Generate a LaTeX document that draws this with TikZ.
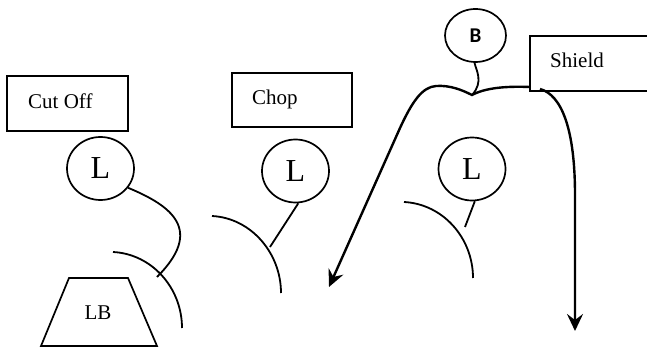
\documentclass[tikz,border=0pt]{standalone}
\usepackage{fontspec}
\setmainfont{Liberation Serif}
\newfontfamily\bfam{Carlito}
\usetikzlibrary{arrows.meta,shapes.geometric}
\begin{document}
\begin{tikzpicture}[x=1pt,y=-1pt,
  boxnode/.style={draw,line width=1.7pt,rectangle,inner sep=0pt},
  lbl/.style={font=\fontsize{21}{25}\selectfont,inner sep=0pt,anchor=base west},
  lcirc/.style={draw,line width=1.7pt,ellipse,minimum width=67pt,minimum height=63pt,inner sep=0pt,font=\fontsize{32}{36}\selectfont},
  thin line/.style={line width=1.8pt},
  thick arrow/.style={line width=2.4pt,-{Stealth[length=17pt,width=16pt,inset=6pt]}}]
\useasboundingbox (0,0) rectangle (647,352);
\begin{scope}
\clip (0,0) rectangle (647,352);
% boxes
\node[boxnode,minimum width=121pt,minimum height=55pt] (cutbox) at (67.5,103.5) {};
\node[lbl] (cuttext) at (28,109) {Cut Off};
\node[boxnode,minimum width=120pt,minimum height=54pt] (chopbox) at (292,100) {};
\node[lbl] (choptext) at (252,105) {Chop};
\node[boxnode,minimum width=140pt,minimum height=55pt] (shieldbox) at (600,63.5) {};
\node[lbl] (shieldtext) at (550,68) {Shield};
% L circles
\node[lcirc] (l1) at (100.5,168.5) {L};
\node[lcirc] (l2) at (295.5,171) {L};
\node[lcirc] (l3) at (472,169) {L};
% B
\node[draw,line width=1.7pt,ellipse,minimum width=61pt,minimum height=53pt,inner sep=0pt,font=\bfam\bfseries\fontsize{21}{25}\selectfont] (b) at (475.5,35.5) {B};
% LB trapezium
\coordinate (t1) at (69,278);
\coordinate (t2) at (128,278);
\coordinate (t3) at (157,346);
\coordinate (t4) at (41,346);
\draw[line width=1.7pt] (t1) -- (t2) -- (t3) -- (t4) -- cycle;
\node[font=\fontsize{21}{25}\selectfont,inner sep=0pt] (lb) at (98,313) {LB};
% arcs
\coordinate (a1s) at (113,252); \coordinate (a1e) at (182,328);
\coordinate (a2s) at (212,216); \coordinate (a2e) at (281,293);
\coordinate (a3s) at (404,202); \coordinate (a3e) at (473,278);
\draw[thin line] (a1s) .. controls (152,254) and (182,288) .. (a1e);
\draw[thin line] (a2s) .. controls (251,218) and (281,253) .. (a2e);
\draw[thin line] (a3s) .. controls (443,204) and (473,238) .. (a3e);
% connectors from L circles
\coordinate (c1) at (157,277);
\draw[thin line] (l1.-35) .. controls (172,206) and (204,230) .. (c1);
\coordinate (c2) at (270,247);
\draw[thin line] (l2.-85) -- (c2);
\coordinate (c3) at (465,227);
\draw[thin line] (l3.-85) -- (c3);
% shield curves
\coordinate (dip) at (472,95);
\coordinate (corner) at (530,87);
\coordinate (tipl) at (329,287);
\coordinate (tipr) at (575,331);
\coordinate (rstart) at (540,89);
\draw[thick arrow] (corner) .. controls (505,86) and (485,88) .. (dip)
  .. controls (462,90) and (450,85) .. (436,86)
  .. controls (422,87) and (412,102) .. (400,128) -- (tipl);
\draw[thick arrow] (rstart) .. controls (562,95) and (575,130) .. (575,195) -- (tipr);
\draw[line width=1.8pt] (b.-92) .. controls (476,70) and (484,82) .. (dip);
\end{scope}
\end{tikzpicture}
\end{document}
